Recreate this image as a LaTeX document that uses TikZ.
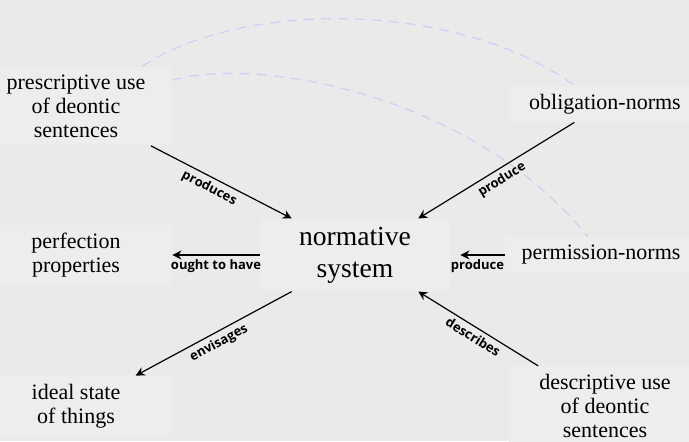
\documentclass[tikz,border=0pt]{standalone}
\usepackage{fontspec}
\setmainfont{Liberation Serif}
\newfontfamily\labelfont{Open Sans}
\usetikzlibrary{arrows.meta}

\definecolor{paper}{RGB}{233,234,233}
\definecolor{boxfill}{RGB}{237,237,237}
\definecolor{linkblue}{RGB}{204,208,244}

\begin{document}
\begin{tikzpicture}[
    x=0.5pt, y=-0.5pt,
    term/.style={fill=boxfill, align=center, font=\fontsize{11}{12}\selectfont,
        inner xsep=2pt, inner ysep=4pt, minimum width=96pt},
    core/.style={fill=boxfill, align=center, font=\fontsize{13.8}{16}\selectfont,
        inner ysep=4pt, minimum width=95pt},
    arr/.style={-{Stealth[length=4.5pt, width=4.5pt, inset=1.5pt]}, semithick},
    lab/.style={font=\labelfont\bfseries\fontsize{6.5}{8}\selectfont, inner sep=2pt},
    link/.style={linkblue, semithick, dash pattern=on 5pt off 3.5pt}]

\path[use as bounding box, fill=paper] (0,0) rectangle (689,441);

% --- the system in the middle
\node[core] (norm) at (355,255) {normative\\system};

% --- left column
\node[term] (pres) at (76,106) {prescriptive use\\of deontic\\sentences};
\node[term] (perf) at (76,255) {perfection\\properties};
\node[term] (ideal) at (76,406) {ideal state\\of things};

% --- right column
\node[term] (obl) at (605,104) {obligation-norms};
\node[term] (perm) at (601,255) {permission-norms};
\node[term] (desc) at (605,406) {descriptive use\\of deontic\\sentences};

% --- dashed links
\draw[link] (pres.31) .. controls +(101,-67) and +(-115,-85) .. (obl.149);
\draw[link] (pres.15) .. controls +(86,-24) and +(-115,-143) .. (perm.126);

% --- arrows
\draw[arr] (pres.-28) -- node[lab, sloped, below, pos=0.45]{produces} (norm.150);
\draw[arr] (obl.211) -- node[lab, sloped, below]{produce} (norm.30);
\draw[arr] (norm.west) -- node[lab, below]{ought to have} (perf.east);
\draw[arr, shorten >=5pt] (perm.west) -- node[lab, below]{produce} (norm.east);
\draw[arr] (norm.210) -- node[lab, sloped, below]{envisages} (ideal.27);
\draw[arr] (desc.149) -- node[lab, sloped, below]{describes} (norm.-30);
\end{tikzpicture}
\end{document}
